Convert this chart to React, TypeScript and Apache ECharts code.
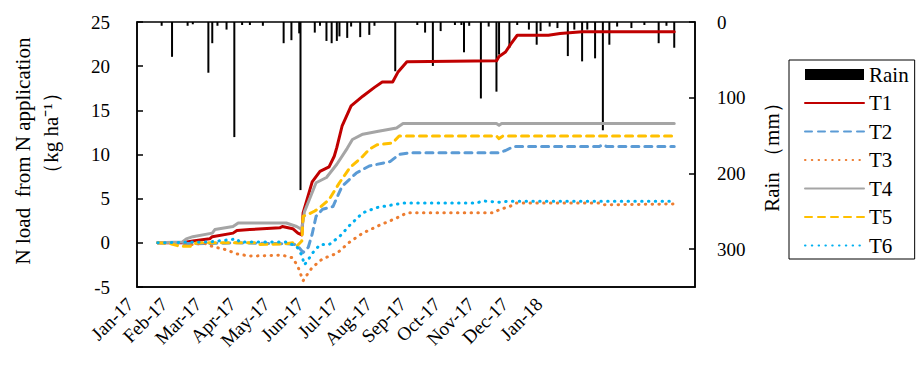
import React, { useEffect, useRef } from "react";
import * as echarts from "echarts";

// x values are days since 1 Jan 2017
const monthLabels = ["Jan-17", "Feb-17", "Mar-17", "Apr-17", "May-17", "Jun-17", "Jul-17", "Aug-17", "Sep-17", "Oct-17", "Nov-17", "Dec-17", "Jan-18"];

const rain: [number, number][] = [
  [3, 5], [11, 46], [23, 5], [27, 3], [39, 67], [42, 28], [46, 5], [53, 10], [59, 152], [65, 4], [71, 4], [81, 5],
  [97, 28], [103, 24], [109, 15], [110, 222], [121, 14], [125, 5], [130, 25], [134, 28], [138, 25], [140, 19],
  [146, 21], [149, 6], [156, 20], [163, 17], [167, 5], [183, 65], [200, 4], [206, 14], [212, 58], [218, 12],
  [229, 4], [234, 4], [236, 40], [240, 5], [249, 101], [255, 6], [261, 92], [263, 43], [271, 34], [277, 4],
  [286, 10], [292, 30], [295, 12], [302, 6], [308, 8], [316, 45], [321, 10], [327, 52], [331, 10], [337, 48],
  [343, 143], [348, 30], [354, 6], [365, 8], [375, 4], [386, 28], [392, 5], [398, 34],
];

const t1: [number, number][] = [
  [0, 0], [19, 0], [27, 0.2], [40, 0.45], [42, 0.7], [58, 1.1], [61, 1.4], [71, 1.5], [94, 1.7], [96, 1.85],
  [104, 1.6], [108, 1.1], [111, 0.9], [112, 3.4], [115, 4.9], [119, 6.9], [125, 8.1], [132, 8.6], [136, 9.8],
  [138, 10.8], [142, 13.2], [149, 15.5], [158, 16.6], [167, 17.6], [173, 18.2], [181, 18.2], [185, 19.3],
  [192, 20.5], [261, 20.6], [263, 21.1], [268, 21.6], [272, 22.5], [277, 23.5], [301, 23.5], [310, 23.7],
  [327, 23.9], [398, 23.9],
];
const t2: [number, number][] = [
  [0, 0], [30, -0.1], [60, 0], [99, -0.1], [107, -0.2], [112, -1.1], [116, -0.5], [119, 1.0], [122, 3.0],
  [127, 3.8], [135, 4.1], [142, 6.4], [153, 7.9], [163, 8.7], [179, 9.2], [186, 10.0], [194, 10.2], [263, 10.2],
  [268, 10.45], [274, 10.9], [340, 10.9], [343, 11.1], [346, 10.9], [398, 10.9],
];
const t3: [number, number][] = [
  [0, 0], [19, 0], [27, -0.2], [35, 0], [42, -0.4], [53, -0.8], [61, -1.25], [71, -1.5], [96, -1.4], [104, -1.7],
  [108, -2.7], [112, -4.3], [116, -3.4], [119, -2.8], [127, -1.8], [138, -1.2], [148, 0.1], [158, 1.1], [171, 2.0],
  [184, 2.8], [192, 3.4], [259, 3.4], [263, 3.75], [271, 4.1], [276, 4.5], [340, 4.5], [343, 4.3], [398, 4.4],
];
const t4: [number, number][] = [
  [0, 0], [19, 0.1], [22, 0.45], [27, 0.7], [42, 1.1], [44, 1.5], [58, 1.85], [62, 2.25], [99, 2.25], [107, 1.85],
  [111, 1.5], [113, 3.5], [119, 5.7], [122, 6.8], [130, 7.4], [138, 8.9], [146, 10.7], [150, 11.7], [158, 12.3],
  [169, 12.6], [184, 13.0], [189, 13.5], [261, 13.5], [263, 13.3], [265, 13.5], [398, 13.5],
];
const t5: [number, number][] = [
  [0, 0], [10, -0.1], [17, -0.4], [25, -0.4], [30, 0], [76, 0], [78, -0.2], [99, -0.1], [104, 0], [107, -0.4],
  [111, 0.2], [112, 3.0], [117, 3.3], [121, 3.6], [125, 4.0], [132, 4.9], [140, 6.8], [148, 8.5], [158, 9.8],
  [163, 10.6], [169, 11.1], [181, 11.3], [186, 12.1], [261, 12.1], [263, 11.8], [266, 12.1], [398, 12.1],
];
const t6: [number, number][] = [
  [0, 0], [40, 0.1], [61, 0.45], [63, 0.1], [99, 0.1], [107, -0.4], [111, -1.4], [113, -2.5], [116, -1.9],
  [119, -1.2], [125, -0.2], [132, -0.2], [140, 0.7], [148, 2.0], [158, 3.4], [169, 4.0], [181, 4.3], [189, 4.5],
  [246, 4.5], [250, 4.75], [263, 4.6], [270, 4.7], [398, 4.7],
];

const FONT = "Liberation Serif";
const DASH = [7, 6];
const DOT = [0.5, 6.3];

export default function App() {
  const ref = useRef<HTMLDivElement>(null);
  useEffect(() => {
    if (!ref.current) return;
    const chart = echarts.init(ref.current, undefined, { renderer: "svg" });
    const lineSeries = (name: string, data: [number, number][], color: string, type: any) => ({
      name,
      type: "line",
      xAxisIndex: 0,
      yAxisIndex: 0,
      data,
      symbol: "none",
      showSymbol: false,
      lineStyle: { color, width: 3, type, cap: "round", join: "round" },
      itemStyle: { color },
    });
    const txt = (text: string, x: number, y: number) => ({
      type: "text", x, y, rotation: Math.PI / 2,
      style: { text, fontSize: 21, fontFamily: FONT, fill: "#000", align: "center", verticalAlign: "middle" },
    });
    chart.setOption({
      animation: false,
      grid: [
        { left: 137, right: 225, top: 22, bottom: 85, show: true, borderColor: "#000", borderWidth: 1.5 },
        { left: 130, width: 409, top: 22, bottom: 85, show: false },
      ],
      xAxis: [
        {
          type: "value", gridIndex: 0, min: -16, max: 414,
          axisLine: { show: true, onZero: false, lineStyle: { color: "#000", width: 1.5 } },
          axisTick: { show: false }, axisLabel: { show: false }, splitLine: { show: false },
        },
        {
          type: "category", gridIndex: 1, data: monthLabels, boundaryGap: false,
          axisLine: { show: false }, axisTick: { show: false }, splitLine: { show: false },
          axisLabel: { interval: 0, rotate: 45, margin: 14, fontSize: 19, fontFamily: FONT, color: "#000" },
        },
      ],
      yAxis: [
        {
          type: "value", gridIndex: 0, min: -5, max: 25, interval: 5, position: "left",
          axisLine: { show: true, onZero: false, lineStyle: { color: "#000", width: 1.5 } },
          axisTick: { show: true, inside: true, length: 6, lineStyle: { color: "#000", width: 1.5 } },
          axisLabel: { margin: 27, fontSize: 19, fontFamily: FONT, color: "#000" },
          splitLine: { show: false },
        },
        {
          type: "value", gridIndex: 0, min: 0, max: 350, interval: 100, position: "right", inverse: true,
          axisLine: { show: true, onZero: false, lineStyle: { color: "#000", width: 1.5 } },
          axisTick: { show: true, inside: true, length: 6, lineStyle: { color: "#000", width: 1.5 } },
          axisLabel: { margin: 22, fontSize: 19, fontFamily: FONT, color: "#000", showMaxLabel: false },
          splitLine: { show: false },
        },
        { type: "value", gridIndex: 1, show: false },
      ],
      legend: {
        orient: "vertical", left: 789, top: 60,
        itemWidth: 59, itemHeight: 11, itemGap: 7.5,
        padding: [4, 6, 3, 15],
        borderColor: "#000", borderWidth: 1, borderRadius: 0, backgroundColor: "#fff",
        textStyle: { fontSize: 21, fontFamily: FONT, color: "#000", lineHeight: 21 },
        itemStyle: { opacity: 0 },
        data: [{ name: "Rain", icon: "rect", itemStyle: { opacity: 1, color: "#000" } }, "T1", "T2", "T3", "T4", "T5", "T6"],
      },
      graphic: [
        txt("N load  from N application", 23, 151),
        txt("（kg ha⁻¹）", 51, 133),
        txt("Rain （mm）", 772, 152),
      ],
      series: [
        {
          name: "Rain", type: "bar", xAxisIndex: 0, yAxisIndex: 1, data: rain, barWidth: 2,
          itemStyle: { color: "#000" },
        },
        lineSeries("T1", t1, "#C00000", "solid"),
        lineSeries("T2", t2, "#5B9BD5", DASH),
        lineSeries("T3", t3, "#ED7D31", DOT),
        lineSeries("T4", t4, "#A5A5A5", "solid"),
        lineSeries("T5", t5, "#FFC000", DASH),
        lineSeries("T6", t6, "#00B0F0", DOT),
      ],
    });
    return () => chart.dispose();
  }, []);
  return (
    <div>
      <style>{`#root svg text { font-family: "Liberation Serif", "Times New Roman", serif !important; }`}</style>
      <div ref={ref} style={{ position: "absolute", left: 0, top: 0, width: 920, height: 372 }} />
    </div>
  );
}
